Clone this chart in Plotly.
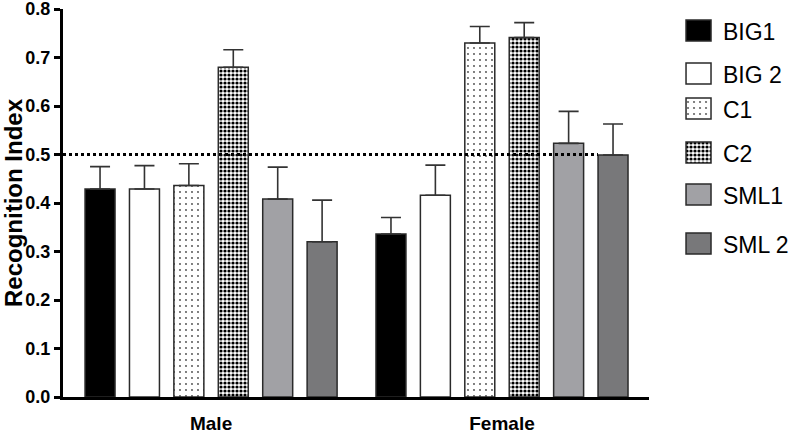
import plotly.graph_objects as go

# ---- data ----
groups = ["Male", "Female"]
series = ["BIG1", "BIG 2", "C1", "C2", "SML1", "SML 2"]
means = {
    "BIG1":  [0.429, 0.336],
    "BIG 2": [0.429, 0.416],
    "C1":    [0.436, 0.730],
    "C2":    [0.680, 0.741],
    "SML1":  [0.408, 0.523],
    "SML 2": [0.320, 0.499],
}
sems = {
    "BIG1":  [0.046, 0.034],
    "BIG 2": [0.048, 0.062],
    "C1":    [0.045, 0.034],
    "C2":    [0.036, 0.031],
    "SML1":  [0.066, 0.066],
    "SML 2": [0.086, 0.064],
}
chance_level = 0.5
y_ticks = [0.0, 0.1, 0.2, 0.3, 0.4, 0.5, 0.6, 0.7, 0.8]

# ---- styles ----
styles = {
    "BIG1":  dict(color="#000000", shape="", fg="#000000", size=6, sol=0.2),
    "BIG 2": dict(color="#ffffff", shape="", fg="#000000", size=6, sol=0.2),
    "C1":    dict(color="#ffffff", shape=".", fg="#444444", size=6, sol=0.07),
    "C2":    dict(color="#ffffff", shape=".", fg="#000000", size=4, sol=0.5),
    "SML1":  dict(color="#a1a1a5", shape="", fg="#000000", size=6, sol=0.2),
    "SML 2": dict(color="#78787a", shape="", fg="#000000", size=6, sol=0.2),
}


def marker_for(name):
    st = styles[name]
    return dict(color=st["color"],
                line=dict(color="#2a2a2a", width=1.5),
                pattern=dict(shape=st["shape"], fgcolor=st["fg"], bgcolor=st["color"],
                             size=st["size"], solidity=st["sol"],
                             fillmode="replace", fgopacity=1))


FONT = "Liberation Sans, Arial, Helvetica, sans-serif"
fig = go.Figure()

for name in series:
    fig.add_trace(go.Bar(
        name=name, x=groups, y=means[name], marker=marker_for(name),
        error_y=dict(type="data", array=sems[name], arrayminus=[0] * len(groups),
                     symmetric=False, color="#333333", thickness=1.6, width=10),
        showlegend=False,
    ))

# ---- legend drawn as swatches in a small side subplot ----
legend_tops = [20, 63, 98, 142, 184, 233]
sw_h = 21
for s, top in zip(series, legend_tops):
    fig.add_trace(go.Bar(
        x=[1], y=[sw_h], base=[top], width=[25], offset=0,
        xaxis="x2", yaxis="y2", showlegend=False, hoverinfo="skip",
        marker=marker_for(s),
    ))
    fig.add_annotation(x=36, y=top + sw_h / 2 + 1, xref="x2", yref="y2", text=s,
                       showarrow=False, xanchor="left", yanchor="middle",
                       font=dict(family=FONT, size=23, color="#000000"))

# chance line
fig.add_shape(type="line", xref="x domain", yref="y", x0=0, x1=0.913,
              y0=chance_level, y1=chance_level, layer="above",
              line=dict(color="#000000", width=3, dash="dot"))

fig.update_layout(
    width=800, height=435,
    margin=dict(l=63, r=0, t=9, b=38),
    paper_bgcolor="white", plot_bgcolor="white",
    barmode="group", bargap=0.084, bargroupgap=0.325,
    font=dict(family=FONT, color="#000000"),
    xaxis=dict(domain=[0, 0.795], type="category", range=[-0.509, 1.505],
               showline=True, linewidth=3, linecolor="#000000", ticks="",
               showgrid=False, zeroline=False, ticklabelstandoff=7, automargin=False,
               tickfont=dict(family=FONT, size=19, weight="bold")),
    yaxis=dict(range=[0, 0.8], tickvals=y_ticks, tickformat=".1f",
               showline=True, linewidth=3, linecolor="#000000",
               ticks="outside", ticklen=6, tickwidth=2.5, tickcolor="#000000",
               showgrid=False, zeroline=False, automargin=False,
               ticklabeloverflow="allow",
               tickfont=dict(family=FONT, size=18, weight="bold"),
               title=dict(text="Recognition Index", standoff=4,
                          font=dict(family=FONT, size=24, weight="bold"))),
    xaxis2=dict(domain=[0.844, 1.0], range=[0, 115], visible=False, anchor="y2"),
    yaxis2=dict(domain=[0, 1], range=[397, 9], visible=False, anchor="x2"),
)

fig.write_html("out.html", config={"displayModeBar": False},
               post_script="document.body.style.margin='0';")
